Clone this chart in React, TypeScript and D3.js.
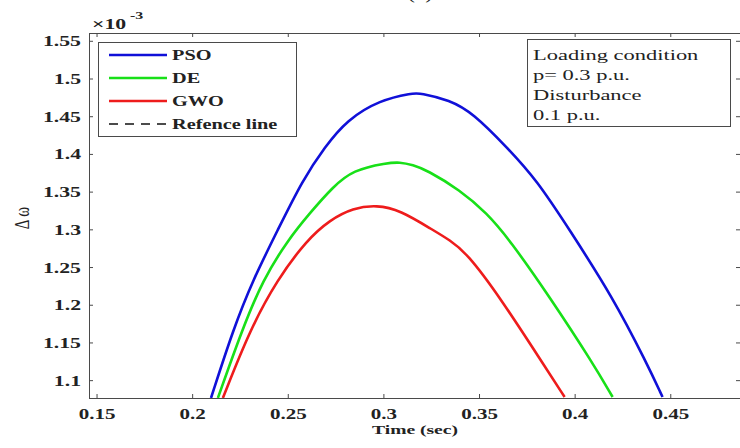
import React from 'react';
import * as d3 from 'd3';

// Time (sec) and Δω (x10^-3)
const psoTime = [0.2096, 0.2211, 0.2315, 0.2445, 0.2575, 0.2691, 0.2806, 0.2979, 0.3151, 0.3188, 0.3344, 0.3465, 0.3642, 0.3799, 0.3971, 0.4196, 0.4374, 0.4457];
const psoValue = [1.077, 1.1672, 1.2335, 1.2998, 1.3661, 1.4098, 1.4456, 1.4722, 1.4814, 1.4814, 1.4722, 1.4549, 1.4098, 1.3661, 1.2998, 1.2109, 1.1234, 1.0783];

const deTime = [0.2132, 0.2258, 0.2367, 0.2498, 0.2613, 0.2733, 0.2838, 0.3015, 0.3083, 0.3151, 0.3224, 0.3397, 0.3538, 0.3658, 0.3867, 0.4092, 0.4196];
const deValue = [1.077, 1.1672, 1.2335, 1.2865, 1.3223, 1.3568, 1.3793, 1.3886, 1.3899, 1.386, 1.3793, 1.3528, 1.3223, 1.2865, 1.2109, 1.1234, 1.0783];

const gwoTime = [0.2158, 0.2299, 0.2441, 0.2597, 0.2717, 0.2838, 0.2963, 0.3083, 0.3256, 0.3344, 0.3433, 0.3606, 0.383, 0.3945];
const gwoValue = [1.077, 1.1672, 1.2335, 1.2865, 1.313, 1.3289, 1.3329, 1.3263, 1.2998, 1.2865, 1.2693, 1.2109, 1.1234, 1.0783];

const xTicks = [0.15, 0.2, 0.25, 0.3, 0.35, 0.4, 0.45];
const xTickLabels = ['0.15', '0.2', '0.25', '0.3', '0.35', '0.4', '0.45'];
const yTicks = [1.1, 1.15, 1.2, 1.25, 1.3, 1.35, 1.4, 1.45, 1.5, 1.55];
const yTickLabels = ['1.1', '1.15', '1.2', '1.25', '1.3', '1.35', '1.4', '1.45', '1.5', '1.55'];

const seriesNames = ['PSO', 'DE', 'GWO'];
const seriesColors = ['#1010d8', '#18e018', '#ee1c1c'];
const infoLines = ['Loading condition', 'p= 0.3 p.u.', 'Disturbance', '0.1 p.u.'];

const W = 740, H = 448;
const left = 89, right = 740, top = 33, bottom = 398;
const SX = 1.45; // the picture is stretched sideways
const serif = '"Liberation Serif", "DejaVu Serif", serif';
const axisColor = '#4a4a4a';

function SText({ x, y, children, anchor = 'start', size = 15, bold = true, sx = SX }: any) {
    return (
        <text
            transform={`translate(${x},${y}) scale(${sx},1)`}
            textAnchor={anchor}
            fontFamily={serif}
            fontSize={size}
            fontWeight={bold ? 'bold' : 'normal'}
            fill="#222"
        >
            {children}
        </text>
    );
}

export default function App() {
    const x = d3.scaleLinear().domain([0.1458, 0.4862]).range([left, right]);
    const y = d3.scaleLinear().domain([1.077, 1.561]).range([bottom, top]);

    const line = d3
        .line<[number, number]>()
        .x((d) => x(d[0]))
        .y((d) => y(d[1]))
        .curve(d3.curveBasis);

    const series = [
        psoTime.map((t, i) => [t, psoValue[i]] as [number, number]),
        deTime.map((t, i) => [t, deValue[i]] as [number, number]),
        gwoTime.map((t, i) => [t, gwoValue[i]] as [number, number]),
    ];

    const tick = 4;

    return (
        <svg width={W} height={H} style={{ position: 'absolute', left: 0, top: 0, background: '#fff' }}>
            <defs>
                <clipPath id="plot">
                    <rect x={left} y={top} width={right - left} height={bottom - top} />
                </clipPath>
            </defs>

            {/* title, cut off at the top as in the source */}
            <SText x={420} y={-1} anchor="middle" size={16} bold={false}>(c)</SText>

            {/* curves */}
            <g clipPath="url(#plot)">
                {series.map((s, i) => (
                    <path key={i} d={line(s) || ''} fill="none" stroke={seriesColors[i]} strokeWidth={2.6} />
                ))}
            </g>

            {/* axes box */}
            <line x1={left} x2={right} y1={bottom + 0.5} y2={bottom + 0.5} stroke={axisColor} />
            <line x1={left} x2={right} y1={top + 0.5} y2={top + 0.5} stroke={axisColor} />
            <line x1={left + 0.5} x2={left + 0.5} y1={top} y2={bottom} stroke={axisColor} />
            <line x1={right + 0.5} x2={right + 0.5} y1={top} y2={bottom} stroke={axisColor} />

            {xTicks.map((t, i) => (
                <g key={'x' + i}>
                    <line x1={x(t)} x2={x(t)} y1={bottom} y2={bottom - tick} stroke={axisColor} />
                    <line x1={x(t)} x2={x(t)} y1={top} y2={top + tick} stroke={axisColor} />
                    <SText x={x(t)} y={419} anchor="middle" size={14.5}>{xTickLabels[i]}</SText>
                </g>
            ))}
            {yTicks.map((t, i) => (
                <g key={'y' + i}>
                    <line x1={left} x2={left + tick} y1={y(t)} y2={y(t)} stroke={axisColor} />
                    <line x1={right} x2={right - tick} y1={y(t)} y2={y(t)} stroke={axisColor} />
                    <SText x={81} y={y(t) + 5} anchor="end">{yTickLabels[i]}</SText>
                </g>
            ))}

            {/* exponent */}
            <SText x={92} y={29} size={15}>×10</SText>
            <SText x={130} y={19} size={11}>-3</SText>

            {/* axis labels */}
            <SText x={415} y={434} anchor="middle" size={13.5}>Time (sec)</SText>
            <text
                transform={`translate(29,218) rotate(-90) scale(1,${SX})`}
                textAnchor="middle"
                fontFamily={serif}
                fontSize={15}
                fill="#222"
            >
                Δ ω
            </text>

            {/* legend */}
            <rect x={98.5} y={42.5} width={198} height={94} fill="#fff" stroke={axisColor} />
            {seriesNames.map((n, i) => (
                <g key={n}>
                    <line x1={109} x2={167} y1={55 + i * 23} y2={55 + i * 23} stroke={seriesColors[i]} strokeWidth={2.6} />
                    <SText x={172} y={60 + i * 23} size={14}>{n}</SText>
                </g>
            ))}
            <line x1={109} x2={167} y1={124} y2={124} stroke="#111" strokeWidth={1.6} strokeDasharray="9,7" />
            <SText x={172} y={129} size={14}>Refence line</SText>

            {/* info box */}
            <rect x={527.5} y={39.5} width={203} height={87} fill="#fff" stroke={axisColor} />
            {infoLines.map((s, i) => (
                <SText key={s} x={533} y={60 + i * 20} size={15.5} bold={false}>
                    {s}
                </SText>
            ))}
        </svg>
    );
}
